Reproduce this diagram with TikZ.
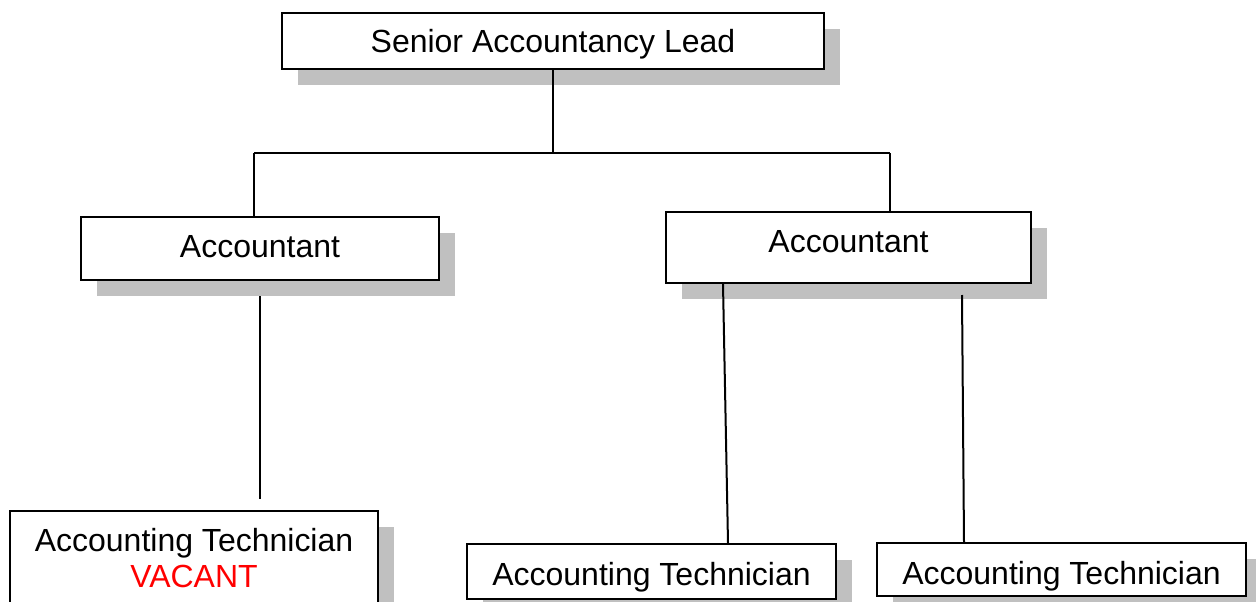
\documentclass[tikz,border=0pt]{standalone}
\usepackage{fontspec}
\setmainfont{Liberation Sans}
\usetikzlibrary{shadows}
\definecolor{shadowgray}{HTML}{C0C0C0}
\definecolor{vacantred}{HTML}{FF0000}
\tikzset{
  orgbox/.style={draw=black, line width=2pt, fill=white, inner sep=0pt,
    text depth=0pt, font=\fontsize{32}{36}\selectfont,
    general shadow={fill=shadowgray, draw=none, shadow xshift=16pt, shadow yshift=-16pt}},
  conn/.style={draw=black, line width=2pt}
}
\begin{document}
\begin{tikzpicture}[x=1pt, y=-1pt]
\useasboundingbox (0,0) rectangle (1256,602);
\clip (0,0) rectangle (1256,602);
% boxes
\node[orgbox, minimum width=542pt, minimum height=56pt, text height=24pt] (lead) at (553,41) {Senior Accountancy Lead};
\node[orgbox, minimum width=358pt, minimum height=63pt, text height=18pt] (acc1) at (260,248.5) {Accountant};
\node[orgbox, minimum width=365pt, minimum height=71pt, text height=9pt] (acc2) at (848.5,247.5) {Accountant};
\node[orgbox, minimum width=368pt, minimum height=100pt, text height=16pt, text depth=36pt] (tech1) at (194,561)
  {\parbox[t]{360pt}{\centering Accounting Technician\\\textcolor{vacantred}{VACANT}}};
\node[orgbox, minimum width=369pt, minimum height=55pt, text height=27pt] (tech2) at (651.5,571.5) {Accounting Technician};
\node[orgbox, minimum width=369pt, minimum height=53pt, text height=29pt] (tech3) at (1061.5,569.5) {Accounting Technician};
% connectors
\coordinate (j1) at (254,153);
\coordinate (j2) at (890,153);
\draw[conn] (lead.south) -- (lead.south |- j1);
\draw[conn] (j1) -- (j2);
\draw[conn] (j1) -- (j1 |- acc1.north);
\draw[conn] (j2) -- (j2 |- acc2.north);
\coordinate (e1) at (260,499);
\draw[conn] ([yshift=-15pt]acc1.south) -- (e1);
\coordinate (s2) at (723,0);
\coordinate (e2) at (728,0);
\draw[conn] (s2 |- acc2.south) -- (e2 |- tech2.north);
\coordinate (s3) at (962,295);
\coordinate (e3) at (964,0);
\draw[conn] (s3) -- (e3 |- tech3.north);
\end{tikzpicture}
\end{document}
